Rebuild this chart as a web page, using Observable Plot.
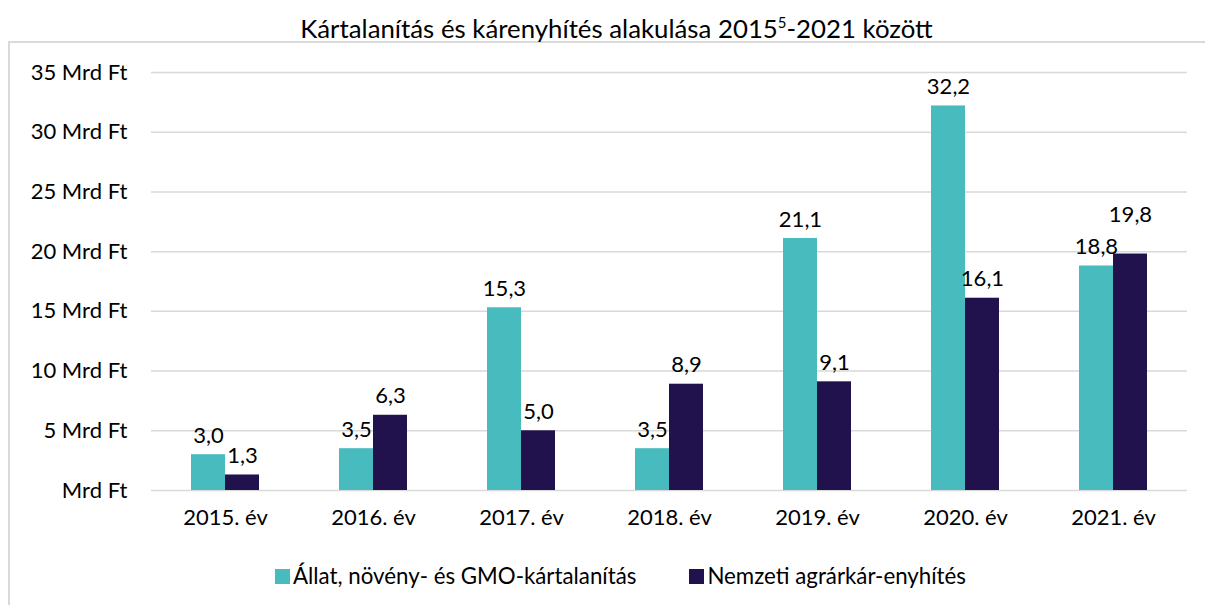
<!DOCTYPE html>
<html>
<head>
<meta charset="utf-8">
<script src="https://cdn.jsdelivr.net/npm/d3@7"></script>
<script src="https://cdn.jsdelivr.net/npm/@observablehq/plot@0.6"></script>
<style>
  html, body { margin: 0; padding: 0; background: #fff; }
  #root { position: relative; width: 1205px; height: 605px; overflow: hidden; font-family: Lato, "Open Sans", sans-serif; color: #000; }
  #title { position: absolute; left: 14px; width: 1205px; top: 13px; text-align: center; font-size: 25.8px; line-height: 30px; }
  #title sup { font-size: 15px; vertical-align: 0; position: relative; top: -10px; }
  #frame { position: absolute; left: 8px; top: 41px; width: 1300px; height: 700px; border-left: 2px solid #D9D9D9; border-top: 2px solid #D9D9D9; }
  #chart { position: absolute; left: 0; top: 42px; }
  #legend { position: absolute; left: 18px; width: 1205px; top: 562px; display: flex; justify-content: center; gap: 53px; font-size: 22.3px; line-height: 28px; }
  .item { display: flex; align-items: center; }
  .sw { width: 15px; height: 15px; margin-right: 3px; }
</style>
</head>
<body>
<div id="root">
  <div id="frame"></div>
  <div id="title">Kártalanítás és kárenyhítés alakulása 2015<sup>5</sup>-2021 között</div>
  <div id="chart"></div>
  <div id="legend"></div>
</div>
<script>
const years = ["2015. év", "2016. év", "2017. év", "2018. év", "2019. év", "2020. év", "2021. év"];
const seriesNames = ["Állat, növény- és GMO-kártalanítás", "Nemzeti agrárkár-enyhítés"];
const compensation = [3.0, 3.5, 15.3, 3.5, 21.1, 32.2, 18.8];
const relief = [1.3, 6.3, 5.0, 8.9, 9.1, 16.1, 19.8];
const yTicks = [0, 5, 10, 15, 20, 25, 30, 35];
const colors = ["#48BBBE", "#21124E"];

const data = [];
years.forEach((y, i) => {
  const a = compensation[i], b = relief[i];
  const close = Math.abs(a - b) < 1.5;
  data.push({year: y, series: seriesNames[0], value: a, lift: close && a > b});
  data.push({year: y, series: seriesNames[1], value: b, lift: close && b > a});
});

const fmt = v => v.toFixed(1).replace(".", ",");

const chart = Plot.plot({
  width: 1205,
  height: 500,
  marginLeft: 150,
  marginRight: 17,
  marginTop: 30,
  marginBottom: 52,
  style: {fontFamily: "Lato, 'Open Sans', sans-serif", fontSize: "22px", color: "#000", background: "transparent"},
  fx: {domain: years, padding: 0, label: null},
  x: {domain: seriesNames, paddingInner: 0, paddingOuter: 1.12, axis: null},
  y: {domain: [0, 35], label: null},
  color: {domain: seriesNames, range: colors},
  marks: [
    Plot.ruleY(yTicks, {stroke: "#D9D9D9", strokeWidth: 1.5}),
    Plot.barY(data, {fx: "year", x: "series", y: "value", fill: "series"}),
    Plot.text(data.filter(d => !d.lift), {fx: "year", x: "series", y: "value", text: d => fmt(d.value), dy: -19, fontSize: 22, fill: "#000"}),
    Plot.text(data.filter(d => d.lift), {fx: "year", x: "series", y: "value", text: d => fmt(d.value), dy: -39, fontSize: 22, fill: "#000"}),
    Plot.axisY({ticks: yTicks, tickSize: 0, tickPadding: 24, label: null, fontSize: 22, tickFormat: d => d === 0 ? "Mrd Ft" : d + " Mrd Ft"}),
    Plot.axisFx({anchor: "bottom", tickSize: 0, tickPadding: 19, label: null, fontSize: 22})
  ]
});
document.getElementById("chart").appendChild(chart);

const legend = document.getElementById("legend");
seriesNames.forEach((n, i) => {
  const it = document.createElement("div");
  it.className = "item";
  const sw = document.createElement("span");
  sw.className = "sw";
  sw.style.background = colors[i];
  const t = document.createElement("span");
  t.textContent = n;
  it.appendChild(sw);
  it.appendChild(t);
  legend.appendChild(it);
});
</script>
</body>
</html>
